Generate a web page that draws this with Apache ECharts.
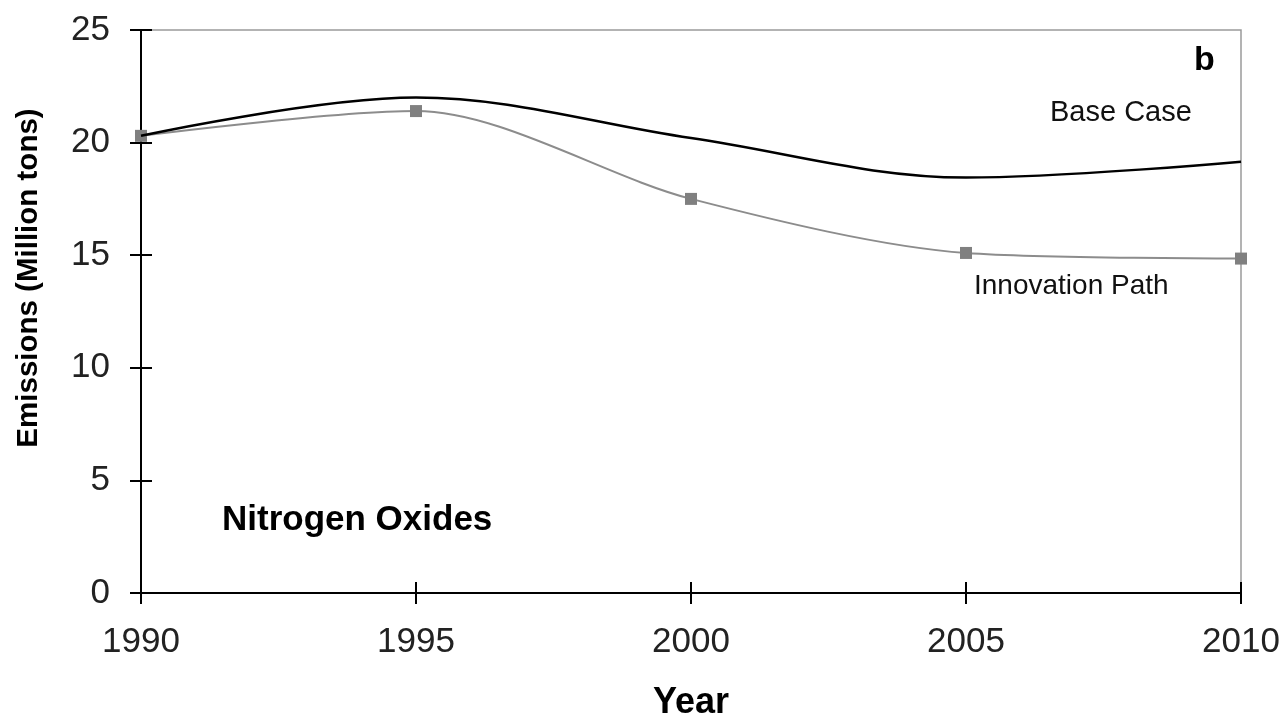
<!DOCTYPE html>
<html><head><meta charset="utf-8">
<script src="https://cdn.jsdelivr.net/npm/echarts@6/dist/echarts.min.js"></script>
<style>html,body{margin:0;padding:0;background:#fff}#c{width:1284px;height:721px}</style>
</head><body><div id="c"></div>
<script>
const years = ['1990','1995','2000','2005','2010'];
const baseCase = [20.3, 22.0, 20.2, 18.45, 19.15];
const innovationPath = [20.3, 21.4, 17.5, 15.1, 14.85];
const yTicks = [0, 5, 10, 15, 20, 25];

const font = '"Liberation Sans", Arial, sans-serif';
const chart = echarts.init(document.getElementById('c'));
const yMin = yTicks[0], yMax = yTicks[yTicks.length-1], yStep = yTicks[1]-yTicks[0];
chart.setOption({
  animation: false,
  backgroundColor: '#fff',
  grid: {left: 141, right: 43, top: 30, bottom: 128, show: true, borderColor: '#9a9a9a', borderWidth: 1.5},
  xAxis: [{
    type: 'category', data: years, boundaryGap: false,
    axisLine: {lineStyle: {color: '#000', width: 2}},
    axisTick: {show: true, length: 11, lineStyle: {color: '#000', width: 2}},
    axisLabel: {fontFamily: font, fontSize: 35, color: '#222', margin: 32}
  }, {
    type: 'category', data: years, boundaryGap: false, position: 'bottom',
    axisLine: {show: false},
    axisTick: {show: true, inside: true, length: 11, lineStyle: {color: '#000', width: 2}},
    axisLabel: {show: false}
  }],
  yAxis: [{
    type: 'value', min: yMin, max: yMax, interval: yStep,
    axisLine: {show: true, lineStyle: {color: '#000', width: 2}},
    axisTick: {show: true, length: 11, lineStyle: {color: '#000', width: 2}},
    axisLabel: {fontFamily: font, fontSize: 35, color: '#222', margin: 31},
    splitLine: {show: false}
  }, {
    type: 'value', min: yMin, max: yMax, interval: yStep, position: 'left',
    axisLine: {show: false},
    axisTick: {show: true, inside: true, length: 11, lineStyle: {color: '#000', width: 2}},
    axisLabel: {show: false}, splitLine: {show: false}
  }],
  series: [{
    name: 'Base Case', type: 'line', data: baseCase, smooth: 0.35,
    showSymbol: false, symbol: 'none',
    lineStyle: {color: '#000', width: 2.5}, z: 3
  }, {
    name: 'Innovation Path', type: 'line', data: innovationPath, smooth: 0.3,
    symbol: 'rect', symbolSize: 12,
    itemStyle: {color: '#808080'},
    lineStyle: {color: '#8c8c8c', width: 2}, z: 2
  }],
  graphic: [
    {type: 'text', x: 29, y: 278, rotation: Math.PI / 2,
     style: {text: 'Emissions (Million tons)', font: 'bold 29.5px ' + font, fill: '#000', align: 'center', verticalAlign: 'middle'}},
    {type: 'text', x: 691, y: 703,
     style: {text: 'Year', font: 'bold 36px ' + font, fill: '#000', align: 'center', verticalAlign: 'middle'}},
    {type: 'text', left: 1194, top: 44, style: {text: 'b', font: 'bold 34px ' + font, fill: '#000'}},
    {type: 'text', left: 1050, top: 98, style: {text: 'Base Case', font: '29px ' + font, fill: '#111'}},
    {type: 'text', left: 974, top: 272, style: {text: 'Innovation Path', font: '28px ' + font, fill: '#111'}},
    {type: 'text', left: 222, top: 503, style: {text: 'Nitrogen Oxides', font: 'bold 35px ' + font, fill: '#000'}}
  ]
});
</script></body></html>
